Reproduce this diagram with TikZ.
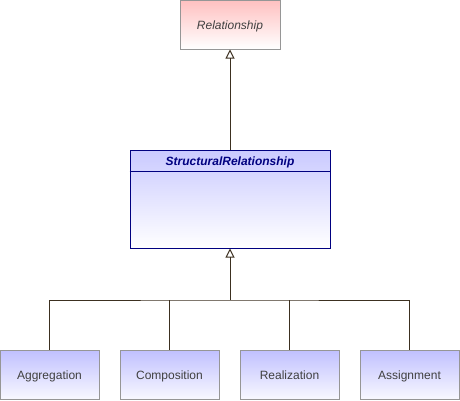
\documentclass[tikz,border=0pt]{standalone}
\usepackage{fontspec}
\setmainfont{Liberation Sans}
\usetikzlibrary{arrows.meta}
\usetikzlibrary{positioning}
\definecolor{pinktop}{RGB}{255,192,192}
\definecolor{bluetop}{RGB}{192,192,255}
\definecolor{bluebot}{RGB}{248,248,255}
\definecolor{classnavy}{RGB}{0,0,128}
\definecolor{boxgrey}{RGB}{150,150,150}
\definecolor{txtgrey}{RGB}{64,64,64}
\definecolor{linebrown}{RGB}{60,48,32}
\begin{document}
\begin{tikzpicture}[line cap=butt,line join=miter,x=1pt,y=-1pt,
  every node/.style={font=\fontsize{12}{14}\selectfont,inner sep=0pt,text height=10pt,text depth=1pt},
  abstractbox/.style={draw=boxgrey,line width=1pt,minimum width=100pt,minimum height=49pt,
    top color=pinktop,bottom color=white,text=txtgrey,font=\fontsize{12}{14}\selectfont\itshape},
  leafbox/.style={draw=boxgrey,line width=1pt,minimum width=99pt,minimum height=49pt,
    top color=bluetop,bottom color=bluebot,text=txtgrey},
  classbox/.style={draw=classnavy,line width=1pt,minimum width=200pt,minimum height=98pt,
    top color=bluetop!85,bottom color=white},
  classname/.style={text=classnavy,font=\fontsize{12}{14}\selectfont\bfseries\itshape},
  gen/.style={draw=linebrown,line width=1pt,-{Triangle[open,length=9pt,width=9pt,line width=1pt]}},
  wire/.style={draw=linebrown,line width=1pt}]
\useasboundingbox (0,0) rectangle (460,400);
% top class
\node[abstractbox] (relationship) at (230,24.5) {Relationship};
% middle class with its header
\node[classbox] (structural) at (230,199) {};
\node[classname] (structuralname) at (230,161) {StructuralRelationship};
\draw[classnavy,line width=1pt] ([yshift=-22pt]structural.north west) -- ([yshift=-22pt]structural.north east);
% leaves
\node[leafbox] (aggregation) at (49.5,374.5) {Aggregation};
\node[leafbox] (composition) at (169.5,374.5) {Composition};
\node[leafbox] (realization) at (289.5,374.5) {Realization};
\node[leafbox] (assignment) at (409.5,374.5) {Assignment};
% connectors
\coordinate (bus) at (230,300);
\draw[gen] (structural.north) -- (relationship.south);
\draw[gen] (bus) -- (structural.south);
\draw[wire] (aggregation.north) |- (bus) -| (assignment.north);
\draw[wire] (composition.north) -- (composition.north |- bus);
\draw[wire] (realization.north) -- (realization.north |- bus);
\end{tikzpicture}
\end{document}
